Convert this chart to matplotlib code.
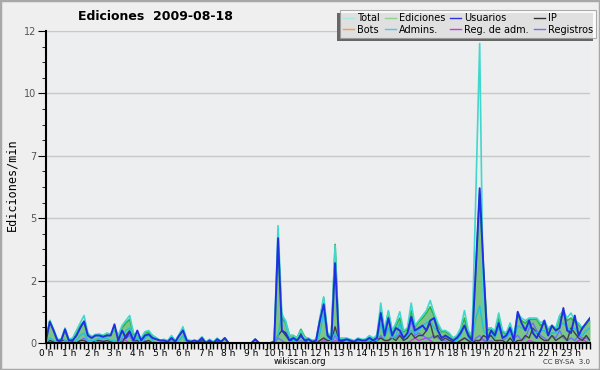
import matplotlib
matplotlib.use("Agg")
import matplotlib.pyplot as plt
from matplotlib.ticker import FixedLocator, MultipleLocator
import numpy as np

title = "Ediciones  2009-08-18"
ylabel = "Ediciones/min"
hour_labels = [f"{h} h" for h in range(24)]
ytick_values = [0, 2.5, 5, 7.5, 10, 12.5]
ytick_labels = ["0", "2", "5", "7", "10", "12"]

total = [0.1,0.9,0.55,0.15,0.15,0.6, 0.15,0.2,0.5,0.8,1.1,0.4, 0.25,0.35,0.35,0.3,0.4,0.35,
         0.6,0.3,0.7,0.9,1.1,0.4, 0.3,0.2,0.45,0.5,0.3,0.2, 0.1,0.15,0.1,0.3,0.1,0.35,
         0.65,0.15,0.1,0.1,0.1,0.25, 0.05,0.15,0.05,0.2,0.05,0.2, 0,0,0,0,0,0,
         0,0.15,0,0,0,0, 0.1,4.7,1.1,0.9,0.3,0.3, 0.2,0.5,0.2,0.2,0.1,0.15,
         1.0,1.85,0.4,0.3,3.9,0.2, 0.2,0.2,0.15,0.1,0.2,0.15, 0.15,0.3,0.2,0.3,1.6,0.5,
         1.3,0.5,0.8,1.25,0.5,0.6, 1.6,0.7,0.9,1.1,1.3,1.7, 1.2,0.8,0.5,0.5,0.4,0.2,
         0.3,0.6,1.3,0.5,0.3,6.0, 12.0,1.0,0.6,0.6,0.5,1.2, 0.5,0.4,0.8,0.3,1.2,1.0,
         0.9,1.0,1.0,1.0,0.8,0.9, 0.6,0.7,0.6,1.1,1.3,1.0, 1.2,0.9,0.8,0.6,0.8,1.0]
ediciones = [0.1,0.9,0.5,0.1,0.15,0.5, 0.1,0.15,0.45,0.7,0.85,0.35, 0.25,0.3,0.35,0.3,0.35,0.35,
             0.55,0.3,0.6,0.8,0.95,0.35, 0.3,0.15,0.4,0.45,0.3,0.2, 0.1,0.1,0.05,0.25,0.05,0.3,
             0.55,0.1,0.05,0.1,0.05,0.2, 0.0,0.1,0.0,0.15,0.05,0.2, 0,0,0,0,0,0,
             0,0.15,0,0,0,0, 0.05,4.0,1.0,0.8,0.3,0.3, 0.2,0.55,0.25,0.15,0.1,0.1,
             0.95,1.8,0.35,0.25,3.95,0.15, 0.15,0.15,0.1,0.05,0.15,0.1, 0.15,0.25,0.15,0.3,1.3,0.45,
             1.25,0.45,0.7,1.0,0.45,0.55, 1.3,0.65,0.85,1.0,1.2,1.45, 1.1,0.7,0.45,0.45,0.35,0.2,
             0.25,0.55,1.0,0.4,0.2,3.0, 6.0,3.0,0.5,0.6,0.45,1.0, 0.45,0.35,0.7,0.25,1.1,0.9,
             0.8,0.95,0.95,0.95,0.7,0.8, 0.55,0.65,0.55,1.0,1.15,0.9, 1.0,0.85,0.75,0.55,0.75,0.95]
usuarios = [0.1,0.85,0.5,0.1,0.1,0.55, 0.1,0.1,0.3,0.6,0.87,0.3, 0.2,0.3,0.3,0.25,0.3,0.3,
            0.75,0.1,0.5,0.2,0.45,0.1, 0.5,0.1,0.3,0.35,0.2,0.15, 0.1,0.1,0.05,0.2,0.05,0.3,
            0.5,0.1,0.05,0.1,0.05,0.2, 0.0,0.1,0.0,0.15,0.05,0.2, 0,0,0,0,0,0,
            0,0.15,0,0,0,0, 0.05,4.2,0.5,0.4,0.1,0.2, 0.1,0.3,0.1,0.15,0.05,0.1,
            0.9,1.55,0.3,0.15,3.2,0.1, 0.1,0.15,0.1,0.05,0.15,0.1, 0.1,0.2,0.1,0.2,1.2,0.3,
            1.0,0.3,0.6,0.5,0.2,0.4, 1.05,0.5,0.6,0.7,0.5,0.9, 1.0,0.5,0.2,0.3,0.2,0.1,
            0.2,0.4,0.7,0.3,0.1,3.0, 6.2,3.0,0.1,0.5,0.3,0.8, 0.2,0.3,0.6,0.1,1.25,0.8,
            0.5,0.9,0.4,0.2,0.5,0.9, 0.3,0.7,0.5,0.6,1.4,0.5, 0.4,1.1,0.3,0.6,0.8,1.0]
ip = [0,0.1,0.05,0,0.1,0.1, 0,0.05,0,0.1,0.1,0, 0,0.1,0.1,0.05,0.1,0.05,
      0,0.1,0,0.3,0.5,0.1, 0.1,0,0.05,0.1,0,0, 0,0,0,0.1,0,0,
      0,0,0,0,0,0.1, 0,0.1,0,0.05,0,0, 0,0,0,0,0,0,
      0,0,0,0,0,0, 0,0.3,0.5,0.3,0.1,0.1, 0.1,0.4,0.1,0,0.05,0,
      0.1,0.2,0.1,0.1,0.65,0.1, 0.05,0,0.1,0,0.05,0, 0,0.1,0,0.1,0.2,0.1,
      0.1,0.2,0.1,0.3,0.1,0.2, 0.4,0.2,0.3,0.3,0.5,0.8, 0.2,0.3,0.1,0.2,0.1,0.05,
      0,0.1,0.2,0.1,0,0.1, 0.1,0.3,0.2,0.3,0.1,0.1, 0.1,0,0.2,0,0.1,0.1,
      0.3,0.2,0.6,0.4,0.2,0.1, 0.1,0.3,0.1,0.2,0.3,0.1, 0.6,0.4,0.2,0.1,0.3,0.1]
admins = [0,0.2,0.1,0,0,0.1, 0,0,0.1,0.3,0.4,0.1, 0.1,0.1,0.2,0.2,0.2,0.1,
          0.1,0,0.2,0.5,0.6,0.1, 0.2,0,0.2,0.3,0.1,0, 0,0,0,0.1,0,0.1,
          0.3,0,0,0,0,0, 0,0,0,0,0,0, 0,0,0,0,0,0,
          0,0,0,0,0,0, 0,0.3,1.2,0.8,0.2,0.1, 0.1,0.3,0.1,0.1,0,0,
          0.4,1.2,0.2,0.1,0.4,0.1, 0.1,0.1,0,0,0.1,0, 0,0.1,0.1,0.1,0.8,0.2,
          0.6,0.2,0.3,0.8,0.2,0.3, 0.5,0.4,0.5,0.7,0.8,0.9, 0.6,0.5,0.2,0.3,0.2,0.1,
          0.1,0.3,0.7,0.2,0.1,1.0, 1.5,0.5,0.3,0.4,0.2,0.6, 0.3,0.2,0.4,0.1,0.7,0.6,
          0.6,0.7,0.5,0.4,0.5,0.5, 0.3,0.4,0.4,0.7,0.8,0.6, 0.5,0.6,0.4,0.3,0.5,0.6]
registros = [0,0.1,0,0,0,0.1, 0,0,0,0.1,0.2,0, 0,0,0.1,0.1,0,0,
             0,0,0.1,0.2,0.3,0, 0.1,0,0.1,0,0,0, 0,0,0,0,0,0,
             0,0,0,0,0,0, 0,0,0,0,0,0, 0,0,0,0,0,0,
             0,0,0,0,0,0, 0,0.2,0.1,0,0,0, 0,0.1,0,0,0,0,
             0.1,0.2,0,0,0.3,0, 0,0,0,0,0,0, 0,0,0,0.1,0.3,0.1,
             0.1,0.3,0.2,0.4,0.1,0.2, 0.9,0.3,0.4,0.3,0.2,0.2, 0.3,0.2,0.1,0.1,0,0,
             0,0.1,0.2,0.1,0,0.2, 0.3,0.1,0,0.1,0,0.1, 0.1,0.2,0.5,0.2,0.3,0.1,
             0.2,0.6,0.8,0.5,0.3,0.2, 0.1,0.3,0.2,0.5,0.2,0.1, 0.2,0.1,0.3,0.2,0.2,0.1]
regadm = ([0]*18 + [0,0,0.2,0.1,0,0] + [0]*48 + [0,0.1,0,0,0.1,0] + [0]*18 +
          [0.1,0.2,0.1,0.15,0.2,0.1] + [0]*12 + [0.1,0.15,0,0,0,0] + [0]*6 +
          [0,0.1,0.05,0,0,0] + [0]*6 + [0,0,0.1,0.15,0.05,0])
bots = [0]*144

x = np.arange(len(total)) / 6.0

fig = plt.figure(figsize=(6, 3.7), dpi=100, facecolor="#efefef")
fig.patches.append(plt.Rectangle((0, 0), 1, 1, transform=fig.transFigure,
                                 fill=False, edgecolor="#a8a8a8", linewidth=2.5))
ax = fig.add_axes([46/600, 27/370, 544/600, 312/370])
ax.set_facecolor("#eceef0")

ax.fill_between(x, ediciones, color="#2ea83a", alpha=0.58, linewidth=0)
ax.plot(x, bots, color="#f0a030", lw=1)
ax.plot(x, regadm, color="#c040f0", lw=1)
ax.plot(x, registros, color="#7070ff", lw=1)
ax.plot(x, ip, color="#404040", lw=1)
ax.plot(x, ediciones, color="#30b040", lw=1.2)
ax.plot(x, admins, color="#20c0e0", lw=1)
ax.plot(x, total, color="#40d8cc", lw=1.2)
ax.plot(x, usuarios, color="#2030e0", lw=1.4)

ax.set_xlim(0, x[-1])
ax.set_ylim(0, 12.5)
ax.yaxis.set_major_locator(FixedLocator(ytick_values))
ax.set_yticklabels(ytick_labels)
ax.yaxis.set_minor_locator(MultipleLocator(0.625))
ax.set_xticks(np.arange(24))
ax.set_xticklabels(hour_labels)
ax.xaxis.set_minor_locator(MultipleLocator(1/6))
ax.grid(axis="y", color="#c8c8c8", lw=1)
ax.set_axisbelow(True)
for s in ["top", "right"]:
    ax.spines[s].set_visible(False)
for s in ["left", "bottom"]:
    ax.spines[s].set_color("black")
    ax.spines[s].set_linewidth(1.5)
ax.tick_params(axis="y", which="major", length=6, labelsize=7, labelcolor="#555555", pad=1)
ax.tick_params(axis="y", which="minor", length=3)
ax.tick_params(axis="x", which="both", length=4, width=1, labelsize=6.5, pad=0.5)

fig.text(155/600, 1 - 17/370, title, ha="center", va="center", fontsize=9, fontweight="bold")
fig.text(12/600, 185/370, ylabel, rotation=90, ha="center", va="center",
         fontsize=8.5, family="DejaVu Sans Mono")
fig.text(300/600, 1 - 362/370, "wikiscan.org", ha="center", va="center", fontsize=6)
fig.text(590/600, 1 - 362/370, "CC BY-SA  3.0", ha="right", va="center", fontsize=5, color="#333333")

labels = ["Total", "Bots", "Ediciones", "Admins.", "Usuarios", "Reg. de adm.", "IP", "Registros"]
colors = ["#a8e8e0", "#f0a040", "#90d090", "#50c8e0", "#3030e0", "#c040e0", "#303030", "#7070f0"]
handles = [plt.Line2D([], [], color=c, lw=1) for c in colors]
leg = fig.legend(handles, labels, ncol=4, loc="upper right", bbox_to_anchor=(596/600, 1 - 10/370),
                 fontsize=7, frameon=True, fancybox=False, shadow=False, handlelength=1.1,
                 handletextpad=0.35, columnspacing=0.5, labelspacing=0.2, borderpad=0.3,
                 borderaxespad=0)
leg.get_frame().set_edgecolor("#999999")
leg.get_frame().set_facecolor("white")
leg.get_frame().set_linewidth(0.8)
leg.set_zorder(10)

fig.canvas.draw()
bb = leg.get_window_extent().transformed(fig.transFigure.inverted())
shadow = plt.Rectangle((bb.x0 - 3/600, bb.y0 - 3/370), bb.width, bb.height,
                       transform=fig.transFigure, facecolor="#666666", edgecolor="none", zorder=5)
fig.patches.append(shadow)

fig.savefig("out.png", dpi=100, facecolor=fig.get_facecolor())
